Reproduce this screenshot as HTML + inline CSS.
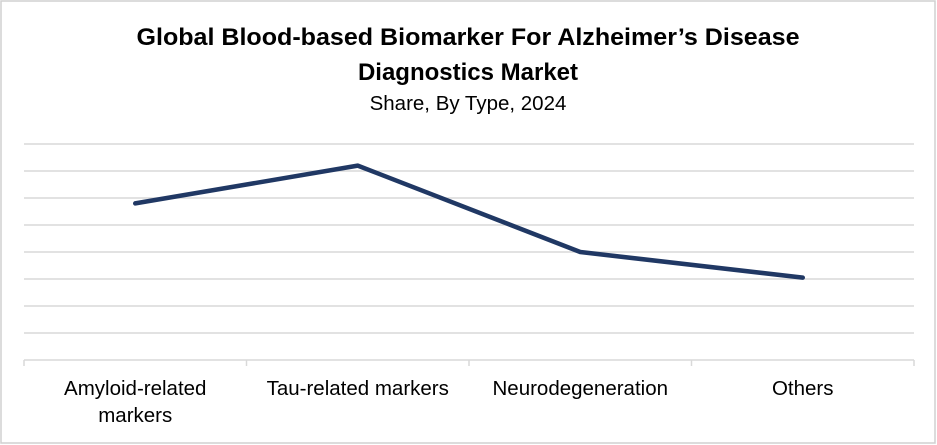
<!DOCTYPE html>
<html><head><meta charset="utf-8"><style>
html,body{margin:0;padding:0;background:#fff}
svg{display:block;font-family:"Liberation Sans",Arial,sans-serif}
</style></head><body>
<svg width="937" height="445" viewBox="0 0 937 445">
<rect x="1" y="1" width="934" height="442" fill="#fff" stroke="#d0d0d0" stroke-width="1.5"/>
<text x="468" y="45" text-anchor="middle" font-size="24" font-weight="bold" fill="#000" textLength="663" lengthAdjust="spacingAndGlyphs">Global Blood-based Biomarker For Alzheimer’s Disease</text>
<text x="468" y="80" text-anchor="middle" font-size="24" font-weight="bold" fill="#000">Diagnostics Market</text>
<text x="468" y="110" text-anchor="middle" font-size="20.5" fill="#000">Share, By Type, 2024</text>
<g id="grid"></g><g id="xaxis"></g><g id="series"></g>
</svg>
<script>
const categories=["Amyloid-related markers","Tau-related markers","Neurodegeneration","Others"];
const values=[5.8,7.2,4.0,3.05];
const yTicks=[0,1,2,3,4,5,6,7,8];
const NS="http://www.w3.org/2000/svg";
const L=24,R=914,B=360,T=144,maxV=8;
const band=(R-L)/categories.length;
const xs=i=>L+band*(i+0.5);
const ys=v=>B-(v/maxV)*(B-T);
const grid=document.getElementById('grid');
yTicks.forEach(t=>{if(t===0)return;
const l=document.createElementNS(NS,'line');
l.setAttribute('x1',L);l.setAttribute('x2',R);l.setAttribute('y1',ys(t));l.setAttribute('y2',ys(t));
l.setAttribute('stroke','#d9d9d9');l.setAttribute('stroke-width','1.5');


grid.appendChild(l);});
const xa=document.getElementById('xaxis');
const ax=document.createElementNS(NS,'line');
ax.setAttribute('x1',L);ax.setAttribute('x2',R);ax.setAttribute('y1',B);ax.setAttribute('y2',B);
ax.setAttribute('stroke','#d9d9d9');ax.setAttribute('stroke-width','1.5');


xa.appendChild(ax);
for(let i=0;i<=categories.length;i++){
const tk=document.createElementNS(NS,'line');
tk.setAttribute('x1',L+band*i);tk.setAttribute('x2',L+band*i);tk.setAttribute('y1',B);tk.setAttribute('y2',B+6);
tk.setAttribute('stroke','#d9d9d9');tk.setAttribute('stroke-width','1.5');


xa.appendChild(tk);}
categories.forEach((c,i)=>{
const tx=document.createElementNS(NS,'text');
tx.setAttribute('text-anchor','middle');tx.setAttribute('font-size','20.5');tx.setAttribute('fill','#000');


const lines=c==="Amyloid-related markers"?["Amyloid-related","markers"]:[c];
lines.forEach((s,j)=>{const sp=document.createElementNS(NS,'tspan');sp.setAttribute('x',xs(i));sp.setAttribute('y',395+j*27);sp.textContent=s;tx.appendChild(sp);});
xa.appendChild(tx);});
const p=document.createElementNS(NS,'polyline');
p.setAttribute('points',values.map((v,i)=>xs(i)+','+ys(v)).join(' '));
p.setAttribute('fill','none');p.setAttribute('stroke','#203864');p.setAttribute('stroke-width','4.5');
p.setAttribute('stroke-linecap','round');p.setAttribute('stroke-linejoin','round');


document.getElementById('series').appendChild(p);
</script>
</body></html>
